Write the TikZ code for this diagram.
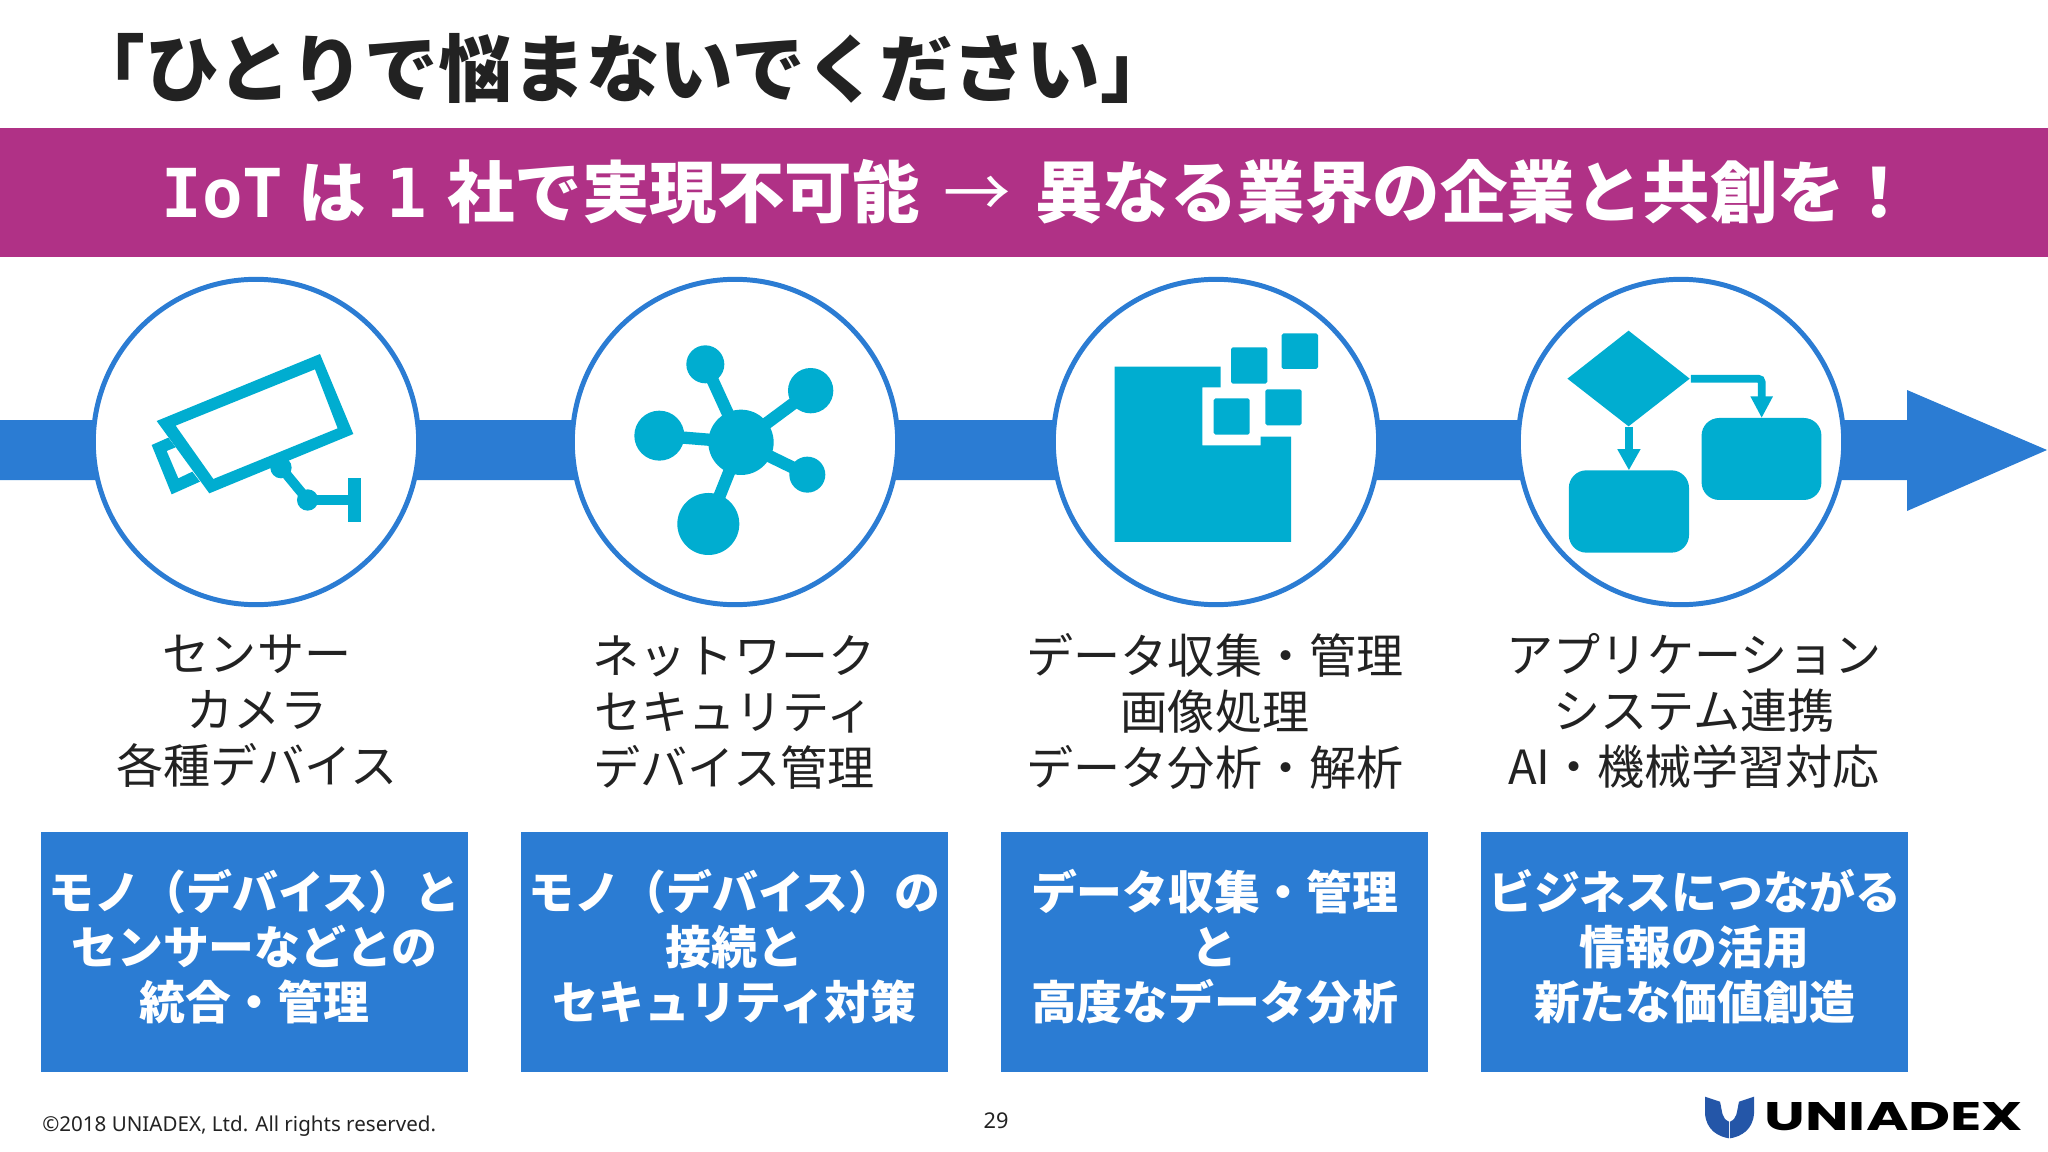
\documentclass[tikz,border=0pt]{standalone}
\usepackage{fontspec}
\setmainfont{Noto Sans CJK JP}
\newfontfamily\footfont{Noto Sans}
\newfontfamily\logofont{Poppins}
\newfontfamily\slabfont{DejaVu Sans Mono}
\usetikzlibrary{arrows.meta,positioning}
\definecolor{bandpurple}{HTML}{B03186}
\definecolor{flowblue}{HTML}{2B7CD3}
\definecolor{iconcyan}{HTML}{00ADD0}
\definecolor{inkgray}{HTML}{222222}
\definecolor{shieldblue}{HTML}{2456A8}
\tikzset{
  roundframe/.style={circle,draw=flowblue,line width=2.83pt,fill=white,minimum size=185.2pt,inner sep=0pt},
  featbox/.style={rectangle,fill=flowblue,minimum width=242.5pt,minimum height=136.6pt,inner sep=0pt},
  feattext/.style={align=center,text=white,inner sep=0pt,font=\fontsize{26.1}{31.3}\selectfont\bfseries},
  layertext/.style={align=center,text=inkgray,inner sep=0pt,font=\fontsize{26.8}{31.9}\selectfont},
  iconlink/.style={draw=iconcyan,line width=7pt},
  flowlink/.style={draw=iconcyan,line width=4.4pt,rounded corners=2pt}
}
\begin{document}
\begin{tikzpicture}[x=0.02cm,y=-0.02cm]
\useasboundingbox (0,0) rectangle (2048,1152);
\fill[bandpurple] (0,128) rectangle (2048,257);
\node[text=inkgray,inner sep=0pt,font=\fontsize{42}{42}\selectfont\bfseries] (title) at (623,68) {「ひとりで悩まないでください」};
\node[text=white,inner sep=0pt,font=\fontsize{38.4}{38.4}\selectfont\bfseries] (slogan) at (1037,192) {{\slabfont IoT} は\hspace{11.5pt}{\slabfont 1}\hspace{11.5pt}社で実現不可能\hspace{5pt} {\mdseries →} \hspace{5pt}異なる業界の企業と共創を！};
\coordinate (P1) at (0,420);
\coordinate (P2) at (1907,420);
\coordinate (P3) at (1907,390);
\coordinate (P4) at (2047,450);
\coordinate (P5) at (1907,511);
\coordinate (P6) at (1907,480);
\coordinate (P7) at (0,480);
\fill[flowblue] (P1) -- (P2) -- (P3) -- (P4) -- (P5) -- (P6) -- (P7) -- cycle;
\node[roundframe] (sensor) at (256,442) {};
\node[roundframe] (network) at (735,442) {};
\node[roundframe] (data) at (1216,442) {};
\node[roundframe] (app) at (1681,442) {};
\begin{scope}[shift={(60,260)},x=0.00667cm,y=-0.00667cm]
\fill[iconcyan,even odd rule] (290,483) -- (780,282) -- (880,522) -- (448,700) -- cycle (347,497) -- (765,328) -- (833,505) -- (460,657) -- cycle;
\fill[iconcyan,even odd rule] (275,555) -- (325,533) -- (347,562) -- (320,573) -- (355,655) -- (397,635) -- (420,665) -- (335,703) -- cycle;
\coordinate (J1) at (663,623);
\coordinate (J2) at (743,720);
\coordinate (J3) at (880,720);
\draw[iconlink,line width=5.6pt] (J1) -- (J2) -- (J3);
\fill[iconcyan] (J1) circle (32);
\fill[iconcyan] (J2) circle (32);
\fill[iconcyan] (863,655) rectangle (903,787);
\end{scope}
\begin{scope}[shift={(540,260)},x=0.00667cm,y=-0.00667cm]
\coordinate (hub) at (603,547);
\coordinate (N1) at (496,313);
\coordinate (N2) at (812,392);
\coordinate (N3) at (358,527);
\coordinate (N4) at (802,644);
\coordinate (N5) at (505,792);
\draw[iconlink] (hub) -- (N1);
\draw[iconlink] (hub) -- (N2);
\draw[iconlink] (hub) -- (N3);
\draw[iconlink] (hub) -- (N4);
\draw[iconlink] (hub) -- (N5);
\fill[iconcyan] (hub) circle (98);
\fill[iconcyan] (N1) circle (57);
\fill[iconcyan] (N2) circle (68);
\fill[iconcyan] (N3) circle (75);
\fill[iconcyan] (N4) circle (54);
\fill[iconcyan] (N5) circle (93);
\end{scope}
\begin{scope}[shift={(1030,260)},x=0.00667cm,y=-0.00667cm]
\fill[iconcyan] (254,320) -- (572,320) -- (572,382) -- (517,382) -- (517,556) -- (692,556) -- (692,530) -- (783,530) -- (783,846) -- (254,846) -- cycle;
\fill[iconcyan,rounded corners=1pt] (603,262) rectangle (712,371);
\fill[iconcyan,rounded corners=1pt] (755,220) rectangle (864,327);
\fill[iconcyan,rounded corners=1pt] (551,415) rectangle (659,524);
\fill[iconcyan,rounded corners=1pt] (706,388) rectangle (815,496);
\end{scope}
\begin{scope}[shift={(1500,260)},x=0.00699cm,y=-0.00667cm]
\coordinate (D1) at (368,212);
\coordinate (D2) at (543,356);
\coordinate (D3) at (368,499);
\coordinate (D4) at (193,356);
\fill[iconcyan] (D1) -- (D2) -- (D3) -- (D4) -- cycle;
\fill[iconcyan,rounded corners=10pt] (577,474) rectangle (920,720);
\fill[iconcyan,rounded corners=10pt] (197,631) rectangle (541,878);
\coordinate (R1) at (546,356);
\coordinate (R2) at (749,356);
\coordinate (R3) at (749,474);
\coordinate (B1) at (369,501);
\coordinate (B2) at (369,631);
\draw[flowlink,-{Triangle[length=12.3pt,width=11.9pt]}] (R1) -- (R2) -- (R3);
\draw[flowlink,-{Triangle[length=12pt,width=12.3pt]}] (B1) -- (B2);
\end{scope}
\node[layertext] (labela) at (257,711) {センサー\\カメラ\\各種デバイス};
\node[layertext] (labelb) at (734,712) {ネットワーク\\セキュリティ\\デバイス管理};
\node[layertext] (labelc) at (1215,711) {データ収集・管理\\画像処理\\データ分析・解析};
\node[layertext] (labeld) at (1694,711) {アプリケーション\\システム連携\\AI・機械学習対応};
\node[featbox] (boxa) at (254.5,952) {};
\node[featbox] (boxb) at (734.5,952) {};
\node[featbox] (boxc) at (1214.5,952) {};
\node[featbox] (boxd) at (1694.5,952) {};
\node[feattext,yshift=3pt] (texta) at (boxa) {モノ（デバイス）と\\センサーなどとの\\統合・管理};
\node[feattext,yshift=3pt] (textb) at (boxb) {モノ（デバイス）の\\接続と\\セキュリティ対策};
\node[feattext,yshift=3pt] (textc) at (boxc) {データ収集・管理\\と\\高度なデータ分析};
\node[feattext,yshift=3pt] (textd) at (boxd) {ビジネスにつながる\\情報の活用\\新たな価値創造};
\node[anchor=west,text=inkgray,inner sep=0pt,font=\footfont\fontsize{11.7}{11.7}\selectfont] (copyright) at (42,1126) {©2018 UNIADEX, Ltd. All rights reserved.};
\node[text=inkgray,inner sep=0pt,font=\footfont\fontsize{12.4}{12.4}\selectfont] (pagenum) at (996,1121) {29};
\begin{scope}[shift={(1680,1080)},x=0.00667cm,y=-0.00667cm]
\fill[shieldblue] (75,50) -- (120,65) .. controls (128,100) and (125,115) .. (147,125) -- (147,175) .. controls (115,170) and (78,150) .. (75,100) -- cycle;
\fill[shieldblue] (222,50) -- (177,65) .. controls (169,100) and (172,115) .. (150,125) -- (150,175) .. controls (182,170) and (219,150) .. (222,100) -- cycle;
\end{scope}
\node[text=black,inner sep=0pt,xscale=1.45,font=\logofont\fontsize{22.7}{22.7}\selectfont\bfseries] (logoword) at (1894,1117) {UNIADEX};
\end{tikzpicture}
\end{document}
